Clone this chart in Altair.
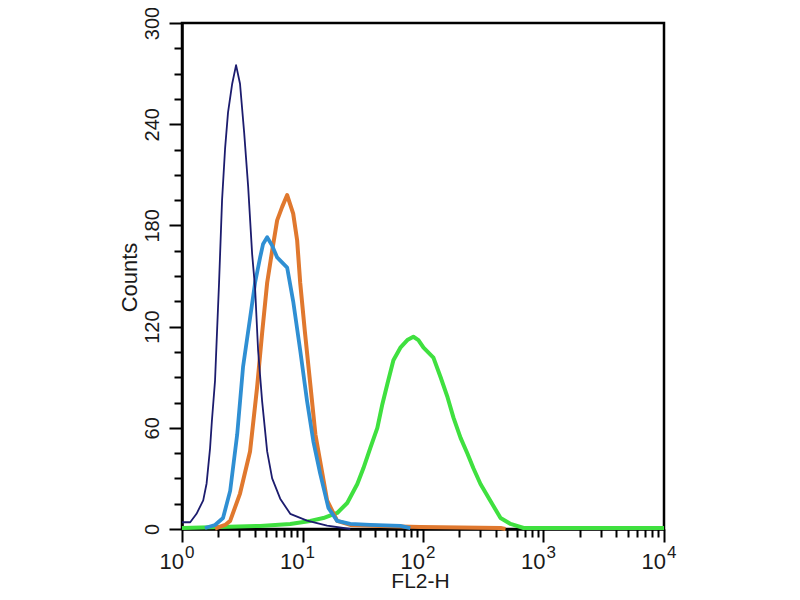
import altair as alt
import pandas as pd

# ---- data (FL2-H value, counts) ----
navy_x = [1.0, 1.17, 1.32, 1.50, 1.60, 1.71, 1.77, 1.88, 1.94, 2.03, 2.15, 2.28, 2.41, 2.61, 2.81,
          3.03, 3.28, 3.54, 3.82, 4.04, 4.28, 4.62, 5.09, 5.60, 6.53, 7.91, 10.9, 16.0, 24.9]
navy_y = [4, 4, 9, 17, 27, 48, 64, 88, 112, 146, 195, 226, 247, 264, 275,
          264, 235, 203, 163, 143, 106, 76, 46, 30, 18, 9, 5, 2, 0]

blue_x = [1.55, 1.88, 2.19, 2.51, 2.87, 3.21, 3.67, 4.04, 4.45, 4.71, 5.09, 5.60, 6.16, 7.46,
          8.37, 9.57, 10.9, 12.3, 14.0, 16.4, 19.4, 24.9, 36.5, 64.9, 78.5]
blue_y = [0.6, 2.4, 6.5, 22.6, 56, 96, 125, 146, 161, 169, 173, 168, 161, 155,
          135, 106, 76, 52, 33, 12.5, 4.8, 3, 2.4, 1.8, 0.5]

orange_x = [1.88, 2.28, 2.51, 3.03, 3.67, 4.20, 4.62, 5.09, 5.60, 6.16, 6.78, 7.46, 8.37, 9.03,
            9.57, 10.5, 11.6, 12.8, 14.6, 16.0, 19.4, 24.9, 44.3, 95.1, 440, 484]
orange_y = [0.3, 2.4, 4.8, 21, 46, 84, 116, 146, 165, 183, 191, 198, 187, 171,
            146, 116, 86, 56, 33, 17, 4.8, 2.4, 1.8, 1.2, 0.6, 0]

green_x = [1.0, 2.07, 4.45, 7.91, 11.6, 14.9, 19.4, 23.5, 28.5, 32.0, 36.5, 41.8, 46.0, 50.6,
           56.8, 64.9, 74.1, 83.2, 91.6, 101, 122, 140, 160, 179, 205, 234, 262, 300, 363,
           440, 533, 684, 1387, 10000]
green_y = [0.6, 1.2, 1.8, 3, 4.8, 6.5, 9.5, 15.4, 26.7, 36, 48, 60, 74, 86,
           100, 107.5, 112, 114, 112, 107.5, 101.6, 90, 78, 66, 54, 44.6, 36, 26.7, 16.6,
           6.5, 3, 0.6, 0.6, 0.6]

decades = [1, 10, 100, 1000, 10000]
decade_base = ["10", "10", "10", "10", "10"]
decade_exp = ["0", "1", "2", "3", "4"]

x_ticks = [m * 10 ** e for e in range(4) for m in range(1, 10)] + [10000]
y_ticks = list(range(0, 301, 15))

FONT = "Liberation Sans"
TXT = "#1a1a1a"

xscale = alt.Scale(type="log", domain=[1, 10000], nice=False)
yscale = alt.Scale(domain=[0, 300], nice=False, zero=False)

x_axis = alt.Axis(
    values=x_ticks, labels=False, grid=False,
    tickSize={"condition": {"test": "indexof([1,10,100,1000,10000], datum.value) >= 0", "value": 13}, "value": 8},
    tickWidth=2, tickColor="black", domainColor="black", domainWidth=2.5,
    title="FL2-H", titleFont=FONT, titleFontSize=21, titleFontWeight="normal", titleColor=TXT,
    titleBaseline="alphabetic", titleY=58, titleX=238,
)
y_axis = alt.Axis(
    values=y_ticks, grid=False,
    labelExpr="datum.value % 60 === 0 ? datum.label : ''",
    tickSize={"condition": {"test": "datum.value % 60 === 0", "value": 13}, "value": 8},
    tickWidth=2, tickColor="black", domainColor="black", domainWidth=2.5,
    labelAngle=270, labelAlign="center", labelBaseline="alphabetic", labelPadding=11,
    labelFont=FONT, labelFontSize=20, labelColor=TXT,
    title="Counts", titleFont=FONT, titleFontSize=22, titleFontWeight="normal", titleColor=TXT,
    titleAngle=270, titleBaseline="alphabetic", titleAlign="center", titleX=-46, titleY=254,
)


def series(xs, ys):
    return pd.DataFrame({"x": xs, "y": ys})


def line(df, color, width):
    return alt.Chart(df).mark_line(color=color, strokeWidth=width, strokeJoin="round").encode(
        x=alt.X("x:Q", scale=xscale, axis=x_axis),
        y=alt.Y("y:Q", scale=yscale, axis=y_axis),
    )


green = line(series(green_x, green_y), "#3fe03f", 4)
orange = line(series(orange_x, orange_y), "#e0782e", 4)
blue = line(series(blue_x, blue_y), "#2f8fd3", 3.8)
navy = line(series(navy_x, navy_y), "#1c1c6e", 1.8)

lab = pd.DataFrame({"x": decades, "base": decade_base, "exp": decade_exp})
base_txt = alt.Chart(lab).mark_text(
    align="right", baseline="alphabetic", dx=2, font=FONT, fontSize=22, color=TXT
).encode(x=alt.X("x:Q", scale=xscale), y=alt.value(545.5), text="base:N")
exp_txt = alt.Chart(lab).mark_text(
    align="left", baseline="alphabetic", dx=3, font=FONT, fontSize=17, color=TXT
).encode(x=alt.X("x:Q", scale=xscale), y=alt.value(535), text="exp:N")

chart = alt.layer(green, orange, blue, navy, base_txt, exp_txt).properties(
    width=482, height=506,
    autosize=alt.AutoSizeParams(type="none"),
    padding={"left": 174, "top": 15, "right": 128, "bottom": 63},
    background="white",
).configure_view(stroke="black", strokeWidth=2.5)

chart.save("out.html", embed_options={"renderer": "svg", "actions": False})
